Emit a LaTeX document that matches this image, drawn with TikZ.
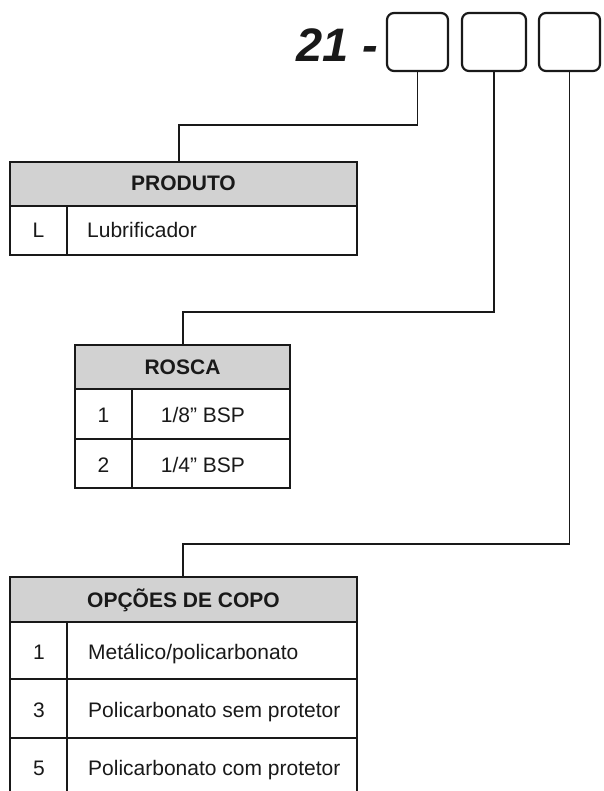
\documentclass[tikz,border=0pt]{standalone}
\usepackage{fontspec}
\setmainfont{Liberation Sans}
\begin{document}
\begin{tikzpicture}[x=1pt,y=-1pt,
  ln/.style={line width=1.8pt,draw=black!90},
  cell/.style={ln,rectangle,inner sep=0pt,outer sep=0pt,anchor=north west},
  hdr/.style={cell,fill=gray!35},
  codebox/.style={ln,rectangle,rounded corners=7pt,minimum width=61pt,minimum height=58pt,inner sep=0pt,outer sep=0pt,anchor=north west,line width=2.2pt},
  txt/.style={inner sep=0pt,anchor=base,text=black!90,font=\fontsize{21}{24}\selectfont},
  ltxt/.style={txt,anchor=base west},
  htxt/.style={txt,font=\fontsize{21}{24}\selectfont\bfseries}]
\useasboundingbox (0,0) rectangle (603,791);
% code
\node[anchor=base east,inner sep=0pt,text=black!90,font=\fontsize{47}{50}\selectfont\bfseries\itshape] (code) at (378,62) {21 -};
\node[codebox] (b1) at (387,13) {};
\node[codebox,minimum width=64pt] (b2) at (462,13) {};
\node[codebox,minimum width=61pt] (b3) at (539,13) {};
% PRODUTO
\node[hdr,minimum width=347pt,minimum height=44pt] (h1) at (10,162) {};
\node[htxt] (h1t) at (183.5,191) {PRODUTO};
\node[cell,minimum width=57pt,minimum height=49pt] (k1) at (10,206) {};
\node[cell,minimum width=290pt,minimum height=49pt] (v1) at (67,206) {};
\node[txt] (k1t) at (38.5,238) {L};
\node[ltxt] (v1t) at (87,238) {Lubrificador};
% ROSCA
\node[hdr,minimum width=215pt,minimum height=44pt] (h2) at (75,345) {};
\node[htxt] (h2t) at (182.5,374.5) {ROSCA};
\node[cell,minimum width=57pt,minimum height=50pt] (k21) at (75,389) {};
\node[cell,minimum width=158pt,minimum height=50pt] (v21) at (132,389) {};
\node[cell,minimum width=57pt,minimum height=49pt] (k22) at (75,439) {};
\node[cell,minimum width=158pt,minimum height=49pt] (v22) at (132,439) {};
\node[txt] (k21t) at (103.5,422) {1};
\node[txt] (v21t) at (203,422) {1/8'' BSP};
\node[txt] (k22t) at (103.5,472) {2};
\node[txt] (v22t) at (203,472) {1/4'' BSP};
% OPCOES DE COPO
\node[hdr,minimum width=347pt,minimum height=45pt] (h3) at (10,577) {};
\node[htxt] (h3t) at (183.5,607) {OPÇÕES DE COPO};
\node[cell,minimum width=57pt,minimum height=57pt] (k31) at (10,622) {};
\node[cell,minimum width=290pt,minimum height=57pt] (v31) at (67,622) {};
\node[cell,minimum width=57pt,minimum height=59pt] (k32) at (10,679) {};
\node[cell,minimum width=290pt,minimum height=59pt] (v32) at (67,679) {};
\node[txt] (k31t) at (39,659) {1};
\node[ltxt] (v31t) at (88,659) {Metálico/policarbonato};
\node[txt] (k32t) at (39,717) {3};
\node[ltxt] (v32t) at (88,717) {Policarbonato sem protetor};
\node[txt] (k33t) at (39,775) {5};
\node[ltxt] (v33t) at (88,775) {Policarbonato com protetor};
\coordinate (e1) at (10,800);
\coordinate (e2) at (67,800);
\coordinate (e3) at (357,800);
\draw[ln] (k32.south west) -- (k32.south west |- e1);
\draw[ln] (v32.south west) -- (v32.south west |- e2);
\draw[ln] (v32.south east) -- (v32.south east |- e3);
% connectors
\coordinate (j1) at (179,125);
\coordinate (j2) at (183,312);
\coordinate (j3) at (183,544);
\draw[ln] (b1.south) |- (j1) -- (j1 |- h1.north);
\draw[ln] (b2.south) |- (j2) -- (j2 |- h2.north);
\draw[ln] (b3.south) |- (j3) -- (j3 |- h3.north);
\end{tikzpicture}
\end{document}
